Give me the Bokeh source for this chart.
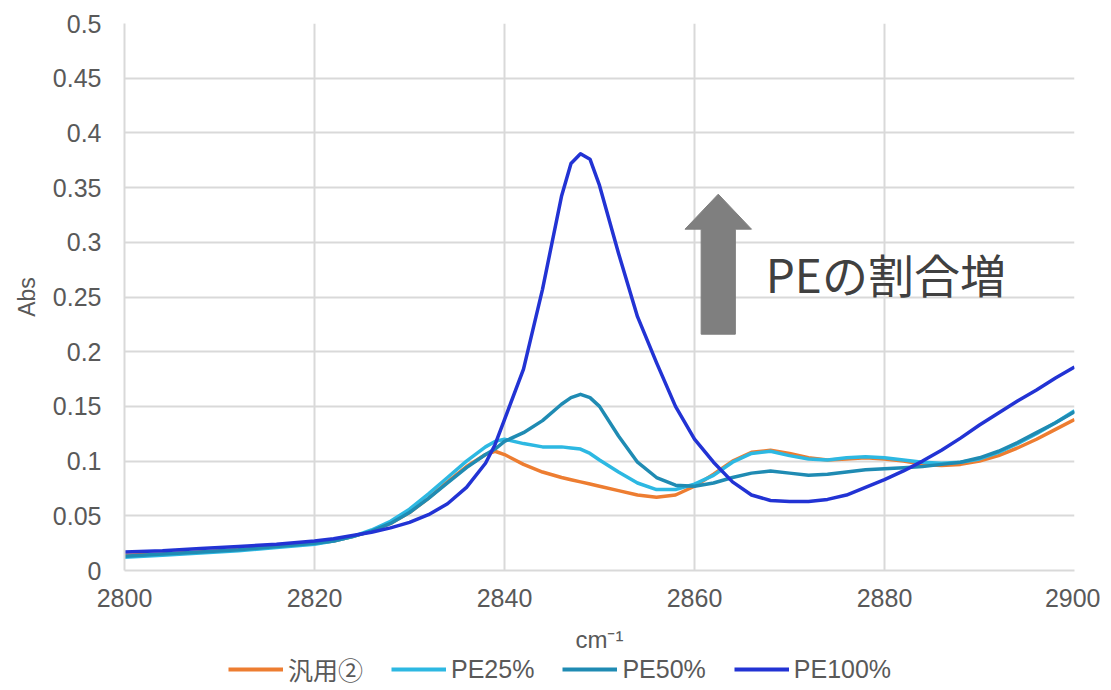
from bokeh.plotting import figure
from bokeh.layouts import column
from bokeh.models import Range1d, FixedTicker, Legend, LegendItem
from bokeh.core.properties import value
from bokeh.embed import file_html
from bokeh.resources import INLINE

# ---- data ----
wavenumber = [2800, 2804, 2808, 2812, 2816, 2820, 2822, 2824, 2826, 2828,
              2830, 2832, 2834, 2836, 2838, 2839, 2840, 2842, 2844, 2846,
              2847, 2848, 2849, 2850, 2852, 2854, 2856, 2858, 2860, 2862,
              2864, 2866, 2868, 2870, 2872, 2874, 2876, 2878, 2880, 2882,
              2884, 2886, 2888, 2890, 2892, 2894, 2896, 2898, 2900]

general2 = [0.014, 0.015, 0.017, 0.019, 0.022, 0.025, 0.027, 0.031, 0.036, 0.043,
            0.053, 0.066, 0.081, 0.095, 0.106, 0.109, 0.106, 0.097, 0.090, 0.085,
            0.083, 0.081, 0.079, 0.077, 0.073, 0.069, 0.067, 0.069, 0.077, 0.088,
            0.100, 0.108, 0.110, 0.107, 0.103, 0.101, 0.102, 0.103, 0.102, 0.100,
            0.097, 0.096, 0.097, 0.100, 0.105, 0.112, 0.120, 0.129, 0.138]

pe25 = [0.012, 0.014, 0.016, 0.018, 0.021, 0.024, 0.027, 0.031, 0.037, 0.045,
        0.056, 0.070, 0.085, 0.100, 0.113, 0.118, 0.120, 0.116, 0.113, 0.113,
        0.112, 0.111, 0.107, 0.101, 0.090, 0.080, 0.074, 0.074, 0.079, 0.087,
        0.099, 0.107, 0.109, 0.105, 0.102, 0.101, 0.103, 0.104, 0.103, 0.101,
        0.099, 0.098, 0.099, 0.102, 0.108, 0.116, 0.125, 0.135, 0.146]

pe50 = [0.013, 0.015, 0.017, 0.019, 0.022, 0.025, 0.027, 0.031, 0.036, 0.043,
        0.053, 0.066, 0.080, 0.094, 0.106, 0.111, 0.118, 0.126, 0.137, 0.152,
        0.158, 0.161, 0.158, 0.150, 0.123, 0.099, 0.085, 0.078, 0.077, 0.080,
        0.085, 0.089, 0.091, 0.089, 0.087, 0.088, 0.090, 0.092, 0.093, 0.094,
        0.095, 0.097, 0.099, 0.103, 0.109, 0.117, 0.126, 0.135, 0.145]

pe100 = [0.017, 0.018, 0.020, 0.022, 0.024, 0.027, 0.029, 0.032, 0.035, 0.039,
         0.044, 0.051, 0.061, 0.076, 0.098, 0.115, 0.138, 0.184, 0.257, 0.342,
         0.372, 0.381, 0.376, 0.352, 0.290, 0.232, 0.190, 0.150, 0.120, 0.099,
         0.081, 0.069, 0.064, 0.063, 0.063, 0.065, 0.069, 0.076, 0.083, 0.091,
         0.100, 0.110, 0.121, 0.133, 0.144, 0.155, 0.165, 0.176, 0.186]

series_names = ["汎用②", "PE25%", "PE50%", "PE100%"]
series_values = [general2, pe25, pe50, pe100]
series_colors = ["#ED7D31", "#2DB8E2", "#1F8BB3", "#2233D4"]

x_ticks = [2800, 2820, 2840, 2860, 2880, 2900]
y_ticks = [0, 0.05, 0.1, 0.15, 0.2, 0.25, 0.3, 0.35, 0.4, 0.45, 0.5]
y_tick_labels = ["0", "0.05", "0.1", "0.15", "0.2", "0.25", "0.3", "0.35", "0.4", "0.45", "0.5"]

annotation_text = "PEの割合増"

FONT = "Liberation Sans, Noto Sans CJK JP, sans-serif"
TXT = "#595959"

p = figure(frame_width=950, frame_height=547, output_backend="svg", toolbar_location=None,
           x_range=Range1d(2800, 2900), y_range=Range1d(0, 0.5),
           min_border_left=124, min_border_right=26, min_border_top=23,
           min_border_bottom=10)
p.outline_line_color = None
p.background_fill_color = "white"
p.border_fill_color = "white"

p.xaxis.ticker = FixedTicker(ticks=x_ticks)
p.yaxis.ticker = FixedTicker(ticks=y_ticks)
p.yaxis.major_label_overrides = {t: l for t, l in zip(y_ticks, y_tick_labels)}

for ax in (p.xaxis[0], p.yaxis[0]):
    ax.axis_line_color = "#D9D9D9"
    ax.axis_line_width = 2
    ax.major_tick_line_color = None
    ax.minor_tick_line_color = None
    ax.major_label_text_font = FONT
    ax.major_label_text_font_size = "25px"
    ax.major_label_text_color = TXT
    ax.axis_label_text_font = FONT
    ax.axis_label_text_font_style = "normal"
    ax.axis_label_text_color = TXT

p.xaxis.major_label_standoff = 12
p.yaxis.major_label_standoff = 17
p.xaxis.axis_label = "cm⁻¹"
p.xaxis.axis_label_text_font_size = "24px"
p.xaxis.axis_label_standoff = 16
p.yaxis.axis_label = "Abs"
p.yaxis.axis_label_text_font_size = "23px"
p.yaxis.axis_label_standoff = 10

p.xgrid.grid_line_color = "#D9D9D9"
p.ygrid.grid_line_color = "#D9D9D9"
p.xgrid.grid_line_width = 2
p.ygrid.grid_line_width = 2

for name, vals, col in zip(series_names, series_values, series_colors):
    p.line(wavenumber, vals, line_color=col, line_width=3.5, line_join="round")

# annotation arrow (gray block arrow) and text
ax_c = 2862.5
p.patch([ax_c - 1.8, ax_c + 1.8, ax_c + 1.8, ax_c + 3.5, ax_c, ax_c - 3.5, ax_c - 1.8],
        [0.216, 0.216, 0.312, 0.312, 0.344, 0.312, 0.312],
        fill_color="#7F7F7F", line_color="#7F7F7F", line_width=1)
p.text(x=[2867.5], y=[0.272], text=[annotation_text],
       text_font=value("Noto Sans CJK JP"), text_font_size="46px",
       text_color="#404040", text_baseline="middle", text_align="left")

# ---- legend row (separate strip below the chart) ----
lg = figure(width=1100, height=40, output_backend="svg", toolbar_location=None,
            x_range=Range1d(0, 1), y_range=Range1d(0, 1),
            x_axis_type=None, y_axis_type=None, min_border=0)
lg.outline_line_color = None
lg.xgrid.visible = False
lg.ygrid.visible = False
items = []
for name, col in zip(series_names, series_colors):
    # placeholder renderer (no visible data) that only supplies the legend swatch
    r = lg.line(x=[float("nan")], y=[float("nan")], line_color=col, line_width=4)
    items.append(LegendItem(label=name, renderers=[r]))
legend = Legend(items=items, orientation="horizontal", location=(104, 8),
                border_line_color=None, background_fill_alpha=0,
                label_text_font=FONT, label_text_font_size="25px",
                label_text_color=TXT, glyph_width=55, glyph_height=26,
                label_standoff=5, spacing=28, padding=2, margin=0)
lg.add_layout(legend)

layout = column(p, lg, spacing=0)
open("out.html", "w").write(file_html(layout, INLINE))
